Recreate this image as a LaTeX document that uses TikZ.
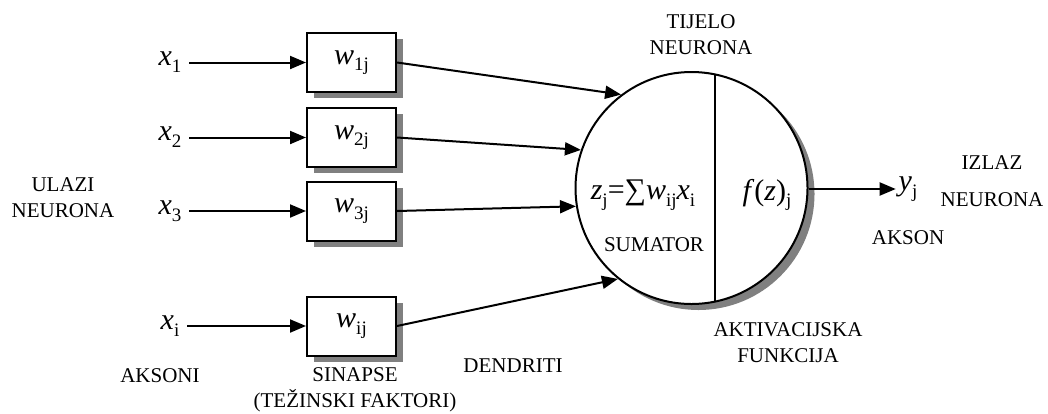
\documentclass[tikz,border=0pt]{standalone}
\usepackage{fontspec}
\setmainfont{Liberation Serif}
\usetikzlibrary{arrows.meta,shadows}

% italic variable with upright, lowered index
\newcommand\nv[2]{\textit{#1}\raisebox{-0.22em}{\fontsize{19}{19}\selectfont #2}}
\newcommand\sbs[1]{\raisebox{-0.22em}{\fontsize{19}{19}\selectfont #1}}

\tikzset{
  lbl/.style={align=center, font=\fontsize{21}{26}\selectfont, inner sep=0pt},
  var/.style={font=\fontsize{30}{34}\selectfont, inner sep=2pt},
  wbox/.style={draw, rectangle, fill=white, minimum width=89pt, minimum height=59pt,
    font=\fontsize{30}{34}\selectfont,
    drop shadow={shadow xshift=7pt, shadow yshift=-6pt, fill=black!50, opacity=1}},
  soma/.style={draw, circle, fill=white, minimum size=232pt, inner sep=0pt}
}

\begin{document}
\begin{tikzpicture}[x=1pt, y=-1pt, >={Triangle[length=16pt,width=13pt]}, line width=2pt]
    \useasboundingbox (0,0) rectangle (1048,413);

    % Inputs
    \node[var] (x1) at (170,62) {\nv{x}{1}};
    \node[var] (x2) at (170,137) {\nv{x}{2}};
    \node[var] (x3) at (170,211) {\nv{x}{3}};
    \node[var] (xi) at (170,326) {\nv{x}{i}};

    % Synapse boxes
    \node[wbox] (w1) at (351.5,62.5) {\nv{w}{1j}};
    \node[wbox] (w2) at (351.5,137.5) {\nv{w}{2j}};
    \node[wbox] (w3) at (351.5,211) {\nv{w}{3j}};
    \node[wbox] (wi) at (351.5,326) {\nv{w}{ij}};

    % Neuron body, with its shadow
    \fill[black!50] (698.5,194) circle[radius=116];
    \node[soma] (body) at (691.5,188) {};
    \draw (body.center) ++(23.5,-113.5) coordinate (top) -- ++(0,227) coordinate (bot);

    \node[var] (sum) at (643,195) {\textit{z}\sbs{j}=∑\textit{w}\sbs{ij}\textit{x}\sbs{i}};
    \node[var] (act) at (767,195) {\textit{f}(\textit{z})\sbs{j}};
    \node[var] (yj) at (908,189) {\nv{y}{j}};

    % Axons and synapses
    \draw[->, shorten <=5pt] (w1.west -| x1.east) -- (w1.west);
    \draw[->, shorten <=5pt] (w2.west -| x2.east) -- (w2.west);
    \draw[->, shorten <=5pt] (w3.west -| x3.east) -- (w3.west);
    \draw[->, shorten <=5pt] (wi.west -| xi.east) -- (wi.west);

    % Dendrites
    \draw[->] (w1.east) -- (body.127.8);
    \draw[->] (w2.east) -- (body.161.9);
    \draw[->] (w3.east) -- (body.189.7);
    \draw[->] (wi.east) -- (body.231.6);

    % Output
    \draw[->] (body.east |- yj.west) -- (yj.west);

    % Labels
    \node[lbl] (ulazi) at (63,197.5) {ULAZI\\NEURONA};
    \node[lbl] (aksoni) at (160,376) {AKSONI};
    \node[lbl] (sinapse) at (355,390) {SINAPSE\\(TEŽINSKI FAKTORI)};
    \node[lbl] (dendriti) at (513,366) {DENDRITI};
    \node[lbl] (tijelo) at (701,35) {TIJELO\\NEURONA};
    \node[lbl] (sumator) at (654,245) {SUMATOR};
    \node[lbl] (aktiv) at (788,342.5) {AKTIVACIJSKA\\FUNKCIJA};
    \node[lbl] (izlaz) at (992,181.5) {IZLAZ\\[11pt]NEURONA};
    \node[lbl] (akson) at (908,238) {AKSON};
\end{tikzpicture}
\end{document}
